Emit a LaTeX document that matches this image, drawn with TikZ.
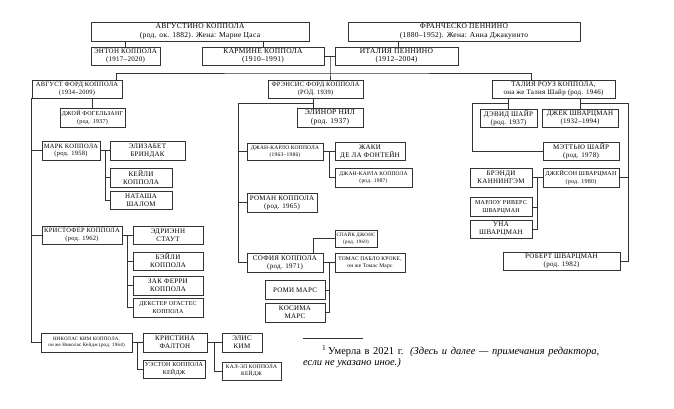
\documentclass[tikz,border=0pt]{standalone}
\usepackage{fontspec}
\setmainfont{Liberation Serif}
\newfontfamily\boxfont[LetterSpace=4]{Liberation Serif}
\usepackage{tikz}
\usetikzlibrary{positioning,calc}

\begin{document}
\begin{tikzpicture}[x=1pt, y=-1pt]
    % Define styles
    \tikzstyle{person} = [rectangle, draw=black!80, line width=0.6pt, fill=white, align=center, inner sep=0pt, font=\boxfont\fontsize{7}{8}\selectfont]
    \tikzstyle{elder} = [font=\boxfont\fontsize{7.5}{8.4}\selectfont]
    \tikzstyle{mid} = [font=\boxfont\fontsize{6.5}{7.6}\selectfont]
    \tikzstyle{small} = [font=\boxfont\fontsize{6}{7.4}\selectfont]
    \tikzstyle{tiny} = [font=\boxfont\fontsize{5.5}{6.8}\selectfont]
    \tikzstyle{wee} = [font=\boxfont\fontsize{5}{6.6}\selectfont]
    \tikzstyle{link} = [draw=black!80, line width=0.7pt]
    \useasboundingbox (0,0) rectangle (674,408);

    % Grandparents
    \node[person, elder, minimum width=218, minimum height=19] (augustino) at (200,31.5) {АВГУСТИНО КОППОЛА\\(род. ок. 1882). Жена: Марие Цаса};
    \node[person, elder, minimum width=232, minimum height=19] (francesco) at (464,31.5) {ФРАНЧЕСКО ПЕННИНО\\(1880–1952). Жена: Анна Джакуинто};
    \node[person, minimum width=69, minimum height=18] (anton) at (125.5,56) {ЭНТОН КОППОЛА\\(1917–2020)};
    \node[person, elder, minimum width=122, minimum height=18] (carmine) at (263,56) {КАРМИНЕ КОППОЛА\\(1910–1991)};
    \node[person, elder, minimum width=123, minimum height=18] (italia) at (396.5,56) {ИТАЛИЯ ПЕННИНО\\(1912–2004)};

    % Children
    \node[person, mid, minimum width=90, minimum height=18] (august) at (77,89) {АВГУСТ ФОРД КОППОЛА\\(1934–2009)};
    \node[person, mid, minimum width=95, minimum height=18] (francis) at (315.5,89) {ФРЭНСИС ФОРД КОППОЛА\\(РОД. 1939)};
    \node[person, minimum width=123, minimum height=18] (talia) at (553.5,89) {ТАЛИЯ РОУЗ КОППОЛА,\\она же Талия Шайр (род. 1946)};

    % August's family
    \node[person, small, minimum width=65, minimum height=19] (joy) at (92.5,117.5) {ДЖОЙ ФОГЕЛЬЗАНГ\\(род. 1937)};
    \node[person, mid, minimum width=58, minimum height=19] (mark) at (71,150.5) {МАРК КОППОЛА\\(род. 1958)};
    \node[person, minimum width=75, minimum height=19] (elizabeth) at (147.5,150.5) {ЭЛИЗАБЕТ\\БРИНДАК};
    \node[person, minimum width=62, minimum height=19] (kaylee) at (141,177.5) {КЕЙЛИ\\КОППОЛА};
    \node[person, minimum width=62, minimum height=18] (natasha) at (141,200.5) {НАТАША\\ШАЛОМ};
    \node[person, mid, minimum width=80, minimum height=18] (christopher) at (82,235) {КРИСТОФЕР КОППОЛА\\(род. 1962)};
    \node[person, minimum width=70, minimum height=18] (adrienne) at (168,235) {ЭДРИЭНН\\СТАУТ};
    \node[person, minimum width=70, minimum height=18] (bailey) at (168,261) {БЭЙЛИ\\КОППОЛА};
    \node[person, minimum width=70, minimum height=19] (zak) at (168,285.5) {ЗАК ФЕРРИ\\КОППОЛА};
    \node[person, small, minimum width=70, minimum height=19] (dexter) at (168,307.5) {ДЕКСТЕР ОГАСТЕС\\КОППОЛА};
    \node[person, wee, minimum width=91, minimum height=19] (nicolas) at (86.5,342.5) {НИКОЛАС КИМ КОППОЛА,\\он же Николас Кейдж (род. 1964)};
    \node[person, minimum width=64, minimum height=19] (christina) at (175,342.5) {КРИСТИНА\\ФАЛТОН};
    \node[person, small, minimum width=62, minimum height=18] (weston) at (174,369) {УЭСТОН КОППОЛА\\КЕЙДЖ};
    \node[person, minimum width=40, minimum height=19] (alice) at (242,342.5) {ЭЛИС\\КИМ};
    \node[person, tiny, minimum width=59, minimum height=18] (kalel) at (251.5,371) {КАЛ-ЭЛ КОППОЛА\\КЕЙДЖ};

    % Francis's family
    \node[person, elder, minimum width=66, minimum height=19] (elinor) at (330,117.5) {ЭЛИНОР НИЛ\\(род. 1937)};
    \node[person, tiny, minimum width=76, minimum height=17] (giancarlo) at (285,151.5) {ДЖАН-КАРЛО КОППОЛА\\(1963–1986)};
    \node[person, minimum width=70, minimum height=18] (jacqui) at (370,151.5) {ЖАКИ\\ДЕ ЛА ФОНТЕЙН};
    \node[person, tiny, minimum width=77, minimum height=19] (giancarla) at (373.5,177.5) {ДЖАН-КАРЛА КОППОЛА\\(род. 1987)};
    \node[person, minimum width=70, minimum height=19] (roman) at (282,202.5) {РОМАН КОППОЛА\\(род. 1965)};
    \node[person, wee, minimum width=42, minimum height=17] (spike) at (356,238.5) {СПАЙК ДЖОНС\\(род. 1969)};
    \node[person, minimum width=76, minimum height=19] (sofia) at (285,262.5) {СОФИЯ КОППОЛА\\(род. 1971)};
    \node[person, tiny, minimum width=70, minimum height=19] (thomas) at (370,262.5) {ТОМАС ПАБЛО КРОКЕ,\\он же Томас Марс};
    \node[person, minimum width=60, minimum height=19] (romi) at (295,290) {РОМИ МАРС};
    \node[person, minimum width=60, minimum height=19] (kosima) at (295,312.5) {КОСИМА\\МАРС};

    % Talia's family
    \node[person, minimum width=57, minimum height=18] (david) at (508.5,118) {ДЭВИД ШАЙР\\(род. 1937)};
    \node[person, minimum width=76, minimum height=18] (jack) at (580,118) {ДЖЕК ШВАРЦМАН\\(1932–1994)};
    \node[person, minimum width=76, minimum height=18] (matthew) at (581,151) {МЭТТЬЮ ШАЙР\\(род. 1978)};
    \node[person, minimum width=62, minimum height=19] (brandy) at (501,177.5) {БРЭНДИ\\КАННИНГЭМ};
    \node[person, small, minimum width=76, minimum height=19] (jason) at (581,177.5) {ДЖЕЙСОН ШВАРЦМАН\\(род. 1980)};
    \node[person, small, minimum width=62, minimum height=19] (marlowe) at (501,207) {МАРЛОУ РИВЕРС\\ШВАРЦМАН};
    \node[person, minimum width=62, minimum height=18] (una) at (501,229) {УНА\\ШВАРЦМАН};
    \node[person, minimum width=117, minimum height=18] (robert) at (561.5,261) {РОБЕРТ ШВАРЦМАН\\(род. 1982)};

    % Top lines
    \draw[link] (anton.north |- augustino.south) -- (anton.north);
    \draw[link] (carmine.north |- augustino.south) -- (carmine.north);
    \draw[link] ([xshift=1.5pt]italia.north |- francesco.south) -- ([xshift=1.5pt]italia.north);
    \draw[link] (carmine.east) -- (italia.west);
    \coordinate (bus) at (330,73);
    \draw[link] (bus |- carmine.east) -- (bus) -- (bus |- francis.north);
    \draw[link] ([xshift=-6pt]august.north east) |- (bus) -| ([xshift=-22.5pt]talia.north);

    % August's lines
    \draw[link] (joy.north |- august.south) -- (joy.north);
    \draw[link] (august.south west) |- (nicolas.west);
    \draw[link] (mark.west -| august.west) -- (mark.west);
    \draw[link] (christopher.west -| august.west) -- (christopher.west);
    \draw[link] (mark.east) -- (elizabeth.west);
    \coordinate (mk) at ($(mark.east)!0.5!(elizabeth.west)$);
    \draw[link] (mk) |- (natasha.west);
    \draw[link] (mk |- kaylee.west) -- (kaylee.west);
    \draw[link] (christopher.east) -- (adrienne.west);
    \coordinate (ck) at ($(christopher.east)!0.5!(adrienne.west)$);
    \draw[link] (ck) |- (dexter.west);
    \draw[link] (ck |- bailey.west) -- (bailey.west);
    \draw[link] (ck |- zak.west) -- (zak.west);
    \draw[link] (nicolas.east) -- (christina.west);
    \coordinate (nk) at ($(nicolas.east)!0.5!(christina.west)$);
    \draw[link] (nk) |- (weston.west);
    \draw[link] (christina.east) -- (alice.west);
    \coordinate (ak) at ($(christina.east)!0.5!(alice.west)$);
    \draw[link] (ak) |- (kalel.west);

    % Francis's lines
    \coordinate (fe) at (313,103);
    \draw[link] (fe |- francis.south) -- (fe |- elinor.north);
    \coordinate (fs) at ([xshift=-8pt]sofia.west);
    \draw[link] (fe) -| (fs) -- (sofia.west);
    \draw[link] (fs |- giancarlo.west) -- (giancarlo.west);
    \draw[link] (fs |- roman.west) -- (roman.west);
    \draw[link] (giancarlo.east) -- (jacqui.west);
    \coordinate (gk) at ($(giancarlo.east)!0.5!(jacqui.west)$);
    \draw[link] (gk) |- (giancarla.west);
    \draw[link] ([xshift=-10pt]sofia.north east) |- (spike.west);
    \draw[link] (sofia.east) -- (thomas.west);
    \coordinate (sk) at ($(sofia.east)!0.5!(thomas.west)$);
    \draw[link] (sk) |- (kosima.east);
    \draw[link] (sk |- romi.east) -- (romi.east);

    % Talia's lines
    \path ([yshift=-5pt]talia.south) coordinate (tb);
    \draw[link] (david.north |- talia.south) -- (david.north);
    \draw[link] (jack.north |- talia.south) -- (jack.north);
    \coordinate (tl) at ([xshift=-7pt]david.west);
    \draw[link] (tb -| david.north) -| (tl |- matthew.west) -- (matthew.west);
    \coordinate (tr) at ([xshift=10pt]jack.east);
    \draw[link] (tb -| jack.north) -| (tr |- robert.east) -- (robert.east);
    \draw[link] (tr |- jason.east) -- (jason.east);
    \draw[link] (brandy.east) -- (jason.west);
    \coordinate (jk) at ($(brandy.east)!0.5!(jason.west)$);
    \draw[link] (jk) |- (una.east);
    \draw[link] (jk |- marlowe.east) -- (marlowe.east);

    % Footnote
    \draw[black!80, line width=0.5pt] (303,338) -- (363,338);
    \node[anchor=north west, text width=296, align=justify, inner sep=0pt, font=\fontsize{10.5}{11}\selectfont] (note) at (303,345) {\hspace*{19pt}\textsuperscript{1}\,Умерла в 2021 г. \textit{(Здесь и далее — примечания редактора,\linebreak если не указано иное.)}};
\end{tikzpicture}
\end{document}
